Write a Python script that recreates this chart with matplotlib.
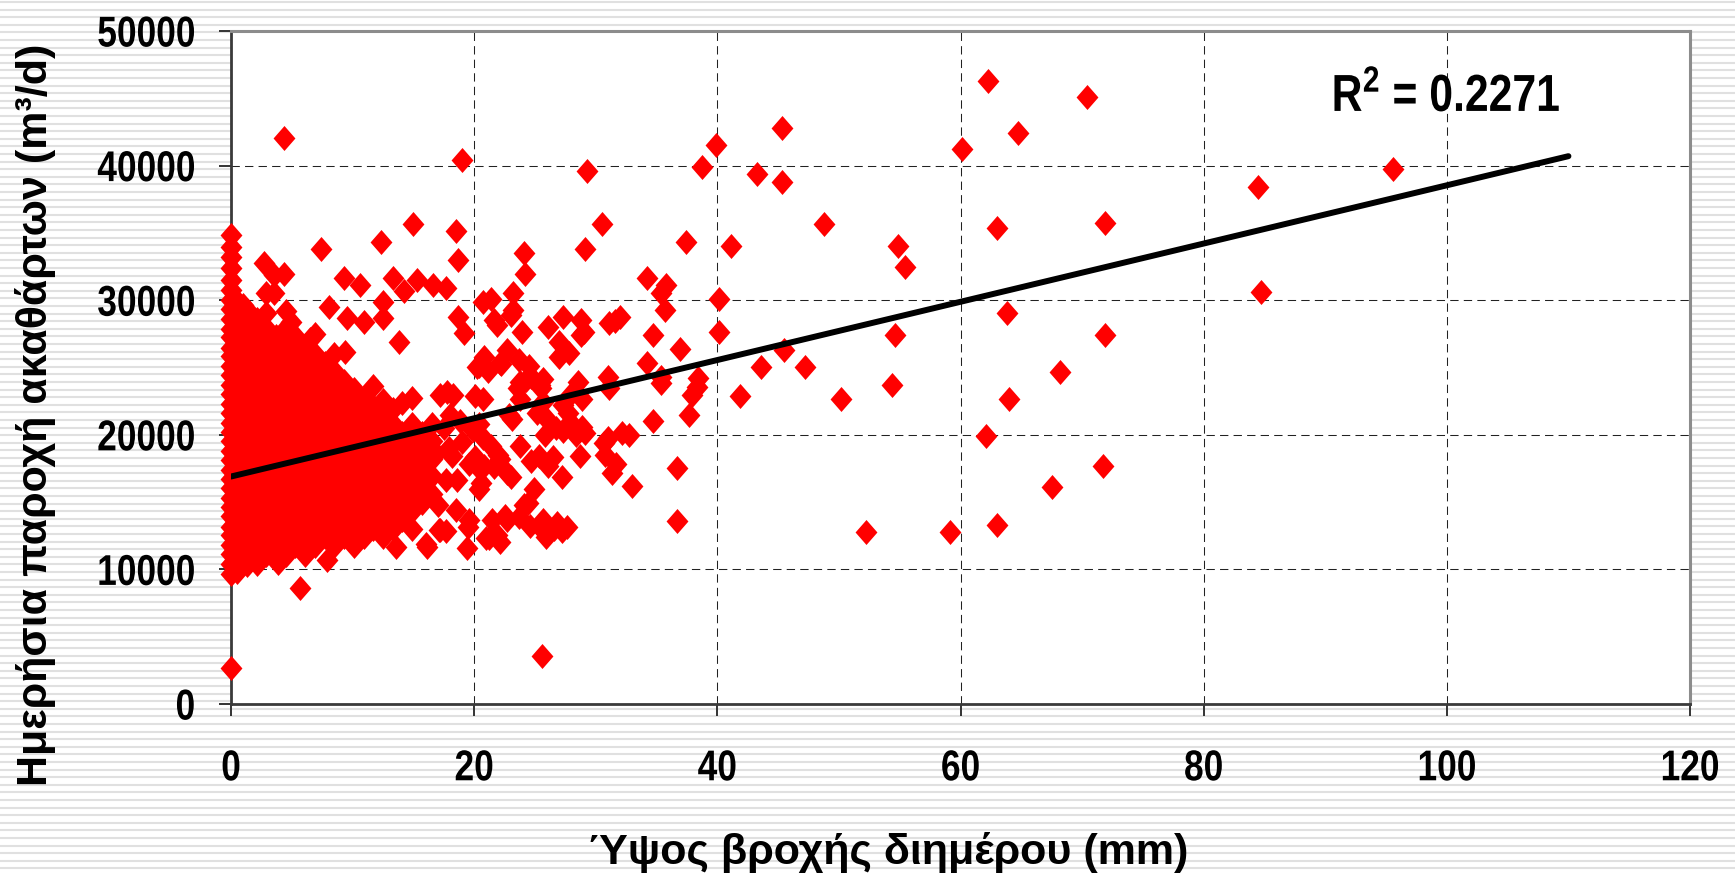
import numpy as np
import matplotlib
matplotlib.use('Agg')
import matplotlib.pyplot as plt
from matplotlib.path import Path
from matplotlib.patches import Rectangle
from matplotlib.patheffects import AbstractPathEffect
from matplotlib.transforms import Affine2D

# days without rain (x = 0)
dry_flow = [2650, 9650, 10420, 11150, 11790, 12560, 13180, 13950, 14620, 15280,
            16040, 16710, 17380, 18150, 18790, 19520, 20230, 20870, 21640, 22290,
            23050, 23680, 24430, 25090, 25820, 26470, 27230, 27880, 28640, 29310,
            30020, 30760, 31500, 32370, 33230, 33970, 34840]

# dense cloud of low-rain days, read column by column: (rain mm, [flows m3/d])
cluster_cols = [
    (0.5, [9800, 10380, 11720, 12990, 14310, 15580, 16920, 18190, 19520, 20780, 22110,
           23390, 24720, 25980, 27310, 28590, 29920]),
    (1.3, [10300, 11040, 12370, 13640, 14960, 16240, 17560, 18840, 20160, 21440, 22760,
           24030, 25360, 26640, 27960, 29240]),
    (2.1, [10380, 11720, 12990, 14310, 15580, 16920, 18190, 19520, 20780, 22110, 23390,
           24720, 25980, 27310, 28590]),
    (2.9, [11040, 12370, 13640, 14960, 16240, 17560, 18840, 20160, 21440, 22760, 24030,
           25360, 26640, 27960, 29030, 30500]),
    (3.7, [11720, 12990, 14310, 15580, 16920, 18190, 19520, 20780, 22110, 23390, 24720,
           25980, 27310]),
    (4.5, [11040, 12370, 13640, 14960, 16240, 17560, 18840, 20160, 21440, 22760, 24030,
           25360, 26640, 27960, 29180]),
    (5.3, [11720, 12990, 14310, 15580, 16920, 18190, 19520, 20780, 22110, 23390, 24720,
           25980, 27310]),
    (6.1, [11040, 12370, 13640, 14960, 16240, 17560, 18840, 20160, 21440, 22760, 24030,
           25360, 26640]),
    (6.9, [11720, 12990, 14310, 15580, 16920, 18190, 19520, 20780, 22110, 23390, 24720,
           25980, 27480]),
    (7.7, [12370, 13640, 14960, 16240, 17560, 18840, 20160, 21440, 22760, 24030, 25360]),
    (8.5, [11720, 12990, 14310, 15580, 16920, 18190, 19520, 20780, 22110, 23390, 24720,
           26000]),
    (9.3, [12370, 13640, 14960, 16240, 17560, 18840, 20160, 21440, 22760, 24030]),
    (10.1, [11720, 12990, 14310, 15580, 16920, 18190, 19520, 20780, 22110, 23390]),
    (10.9, [12370, 13640, 14960, 16240, 17560, 18840, 20160, 21440, 22750]),
    (11.7, [12990, 14310, 15580, 16920, 18190, 19520, 20780, 22110, 23600]),
    (12.5, [12370, 13640, 14960, 16240, 17560, 18840, 20160, 21440, 22600]),
    (13.3, [12990, 14310, 15580, 16920, 18190, 19520, 20780, 21900]),
    (14.1, [13640, 14960, 16240, 17560, 18840, 20150, 22370]),
    (14.9, [12990, 14310, 15580, 16920, 18190, 19520, 20780, 22760]),
    (15.7, [14960, 16240, 17560, 18840, 20150]),
    (16.5, [15600, 16920, 18190, 19520, 20780]),
]

# the rest of the points (rain mm, flow m3/d)
spread = [
    (2.7, 32740), (3.5, 31870), (4.4, 31950), (4.4, 42030), (3.9, 10450), (5.7, 8590),
    (7.9, 10700), (7.4, 33800), (9.3, 31630), (10.6, 31130), (12.3, 34350), (13.3, 31630),
    (15.0, 35640), (1.0, 29640), (2.7, 27790), (3.5, 30510), (4.9, 28390), (6.5, 27090),
    (8.1, 29520), (9.4, 26170), (9.5, 28650), (10.9, 28400), (12.5, 29890), (12.5, 28650),
    (13.8, 26900), (14.2, 30700), (15.3, 31500), (16.6, 31130), (16.1, 11690), (16.0, 11850),
    (13.6, 11690), (17.2, 12930), (17.0, 14770), (17.1, 12940), (16.9, 18620),
    (17.7, 16640), (17.8, 23160), (17.2, 22960), (18.3, 22960), (17.7, 30880), (18.5, 35160),
    (18.7, 32990), (18.7, 28770), (19.2, 27540), (18.5, 14410), (18.6, 16610), (19.5, 13170),
    (19.4, 11620), (17.7, 12850), (19.9, 20360), (20.1, 18370), (20.6, 16390), (20.2, 25060),
    (20.1, 22890), (18.0, 21500), (19.0, 19500), (18.2, 18400), (19.6, 17800), (17.5, 20500),
    (18.8, 21000), (17.9, 19000), (19.0, 40420),
    (20.7, 29890), (21.4, 30070), (21.6, 28530), (21.9, 28130), (23.2, 30510), (23.2, 29270),
    (23.0, 28920), (23.9, 27660), (22.1, 25310), (22.7, 26300), (23.7, 25560), (21.1, 24730),
    (22.2, 25250), (24.3, 24070), (23.8, 23940), (20.4, 25120), (20.8, 25780), (24.2, 31920),
    (24.1, 33530), (21.6, 17630), (22.7, 17140), (20.8, 17650), (22.1, 18180), (23.0, 16870),
    (21.0, 12310), (21.9, 12560), (22.7, 13670), (21.5, 13670), (22.5, 13990), (24.4, 14910),
    (24.6, 13190), (24.1, 14770), (22.9, 21470), (21.4, 19150), (20.7, 19730), (22.0, 18490),
    (20.4, 20810), (20.7, 22630), (20.2, 17660), (20.4, 16000), (23.1, 21140), (23.8, 19150),
    (24.7, 18070), (23.6, 23460), (23.8, 22630), (24.9, 16000), (23.7, 13930), (19.6, 13680),
    (21.2, 12350), (22.1, 12020),
    (24.5, 25120), (24.7, 24290), (25.4, 23700), (25.7, 24120), (25.5, 23460), (25.7, 22470),
    (25.2, 21640), (26.1, 28030), (27.3, 28770), (28.8, 28530), (28.8, 27410), (29.0, 27610),
    (27.0, 26920), (27.0, 25800), (27.8, 26050), (28.5, 23950), (28.0, 23050), (28.9, 22630),
    (27.3, 22220), (27.7, 21640), (27.9, 20970), (27.3, 20310), (28.4, 19980), (28.9, 20560),
    (25.8, 21320), (26.7, 20530), (25.8, 19990), (25.3, 18440), (26.5, 18370), (28.7, 18440),
    (26.1, 17660), (27.2, 16830), (25.9, 12430), (26.8, 13420), (27.6, 13170), (25.7, 13670),
    (26.6, 13020), (27.2, 12850), (25.5, 13100), (25.6, 3600), (29.1, 33780), (29.3, 39620),
    (30.5, 35640), (31.1, 28280), (31.0, 24320), (31.1, 23460), (30.7, 19360), (31.3, 17140),
    (29.1, 20160), (31.0, 19730), (30.8, 18490), (31.7, 17800), (32.7, 19980), (32.2, 20110),
    (32.0, 28770), (31.6, 28430), (33.0, 16200),
    (34.2, 31670), (35.8, 31130), (35.4, 30510), (35.7, 29270), (40.1, 30070), (40.1, 27660),
    (34.7, 27410), (36.9, 26350), (34.2, 25310), (38.4, 24200), (38.3, 23580), (37.9, 22960),
    (35.4, 23830), (35.4, 24290), (37.7, 21470), (34.7, 21050), (36.7, 17560), (36.7, 13600),
    (37.4, 34300), (41.1, 34050), (38.7, 39920), (39.9, 41530), (43.3, 39380), (45.3, 42820),
    (45.3, 38800), (41.9, 22880), (43.6, 25010), (45.5, 26300), (47.2, 25010), (48.8, 35640),
    (50.2, 22640), (52.2, 12800), (54.4, 23700), (54.6, 27410), (54.9, 34050), (55.4, 32440),
    (59.1, 12800), (60.1, 41230), (62.3, 46290), (63.0, 35390), (63.8, 29030), (64.0, 22640),
    (62.1, 19930), (63.0, 13300), (64.7, 42400), (67.5, 16100), (68.2, 24700), (70.4, 45120),
    (71.9, 35770), (71.9, 27400), (71.7, 17690), (84.5, 38410), (84.7, 30610), (95.6, 39740),
]

trend_x = [0, 110]
trend_y = [16900, 40700]
r2_label = r'R$^{2}$ = 0.2271'

x_ticks = [0, 20, 40, 60, 80, 100, 120]
y_ticks = [0, 10000, 20000, 30000, 40000, 50000]
x_title = 'Ύψος βροχής διημέρου (mm)'
y_title = 'Ημερήσια παροχή ακαθάρτων (m³/d)'


class Squeeze(AbstractPathEffect):
    """Draw text narrower (like Arial Narrow) around a chosen anchor."""

    def __init__(self, sx=0.82, anchor='center'):
        super().__init__()
        self.sx = sx
        self.anchor = anchor

    def draw_path(self, renderer, gc, tpath, affine, rgbFace=None):
        ext = tpath.get_extents()
        x0 = {'left': ext.x0, 'right': ext.x1}.get(self.anchor, (ext.x0 + ext.x1) / 2)
        sq = Affine2D().translate(-x0, 0).scale(self.sx, 1).translate(x0, 0)
        renderer.draw_path(gc, tpath, sq + affine, rgbFace)


plt.rcParams['font.family'] = ['Liberation Sans', 'DejaVu Sans']
plt.rcParams['mathtext.fontset'] = 'custom'
plt.rcParams['mathtext.rm'] = 'Liberation Sans:bold'
plt.rcParams['mathtext.it'] = 'Liberation Sans:bold'
plt.rcParams['mathtext.bf'] = 'Liberation Sans:bold'

W, H = 1735, 874
fig = plt.figure(figsize=(W / 100, H / 100), dpi=100)

# slide background: grey stripes around a white panel
bg = fig.add_axes([0, 0, 1, 1], zorder=0)
bg.set_xlim(0, W)
bg.set_ylim(H, 0)
bg.axis('off')
bg.hlines(np.arange(2, H, 7.6), 0, W, color='#e0e0e0', lw=1.5)
bg.add_patch(Rectangle((85, 0), 1645, 802, fc='white', ec='none'))

ax = fig.add_axes([231 / W, 1 - 704 / H, (1690 - 231) / W, (704 - 31) / H], zorder=1)
ax.set_facecolor('white')

xs = [0.0] * len(dry_flow)
ys = list(dry_flow)
for cx, col in cluster_cols:
    xs += [cx] * len(col)
    ys += col
xs += [p[0] for p in spread]
ys += [p[1] for p in spread]

diamond = Path([(0, 1), (0.875, 0), (0, -1), (-0.875, 0), (0, 1)],
               [Path.MOVETO, Path.LINETO, Path.LINETO, Path.LINETO, Path.CLOSEPOLY])
ax.plot(xs, ys, linestyle='none', marker=diamond, markersize=18,
        markerfacecolor='#ff0000', markeredgewidth=0, clip_on=False, zorder=4)
ax.plot(trend_x, trend_y, color='black', lw=4.3, solid_capstyle='round', zorder=5)

ax.set_xlim(0, 120)
ax.set_ylim(0, 50000)
ax.set_xticks(x_ticks)
ax.set_yticks(y_ticks)
ax.set_xticklabels([str(v) for v in x_ticks])
ax.set_yticklabels([str(v) for v in y_ticks])
ax.set_axisbelow(True)
ax.grid(True, color='#222222', linewidth=0.75, linestyle=(0, (8, 5)))

ax.tick_params(direction='out', length=8.6, width=1.4, color='#333333', labelsize=31)
ax.tick_params(axis='x', pad=24)
ax.tick_params(axis='y', pad=17)
for lbl in ax.get_xticklabels():
    lbl.set_fontweight('bold')
    lbl.set_path_effects([Squeeze(0.82, 'center')])
for lbl in ax.get_yticklabels():
    lbl.set_fontweight('bold')
    lbl.set_path_effects([Squeeze(0.82, 'right')])

for side in ['left', 'bottom']:
    ax.spines[side].set_color('#3a3a3a')
    ax.spines[side].set_linewidth(2)
for side in ['top', 'right']:
    ax.spines[side].set_color('#8c8c8c')
    ax.spines[side].set_linewidth(2.2)

fig.text(35.5 / W, 1 - 415 / H, y_title, rotation=90, ha='center', va='center',
         fontsize=31, fontweight='bold', zorder=3)
fig.text(888 / W, 1 - 864 / H, x_title, ha='center', va='baseline',
         fontsize=31, fontweight='bold', zorder=3)
r2 = fig.text(1331 / W, 1 - 111 / H, r2_label, ha='left', va='baseline',
              fontsize=37.5, fontweight='bold', zorder=3)
r2.set_path_effects([Squeeze(0.82, 'left')])

fig.savefig('out.png', dpi=100)
